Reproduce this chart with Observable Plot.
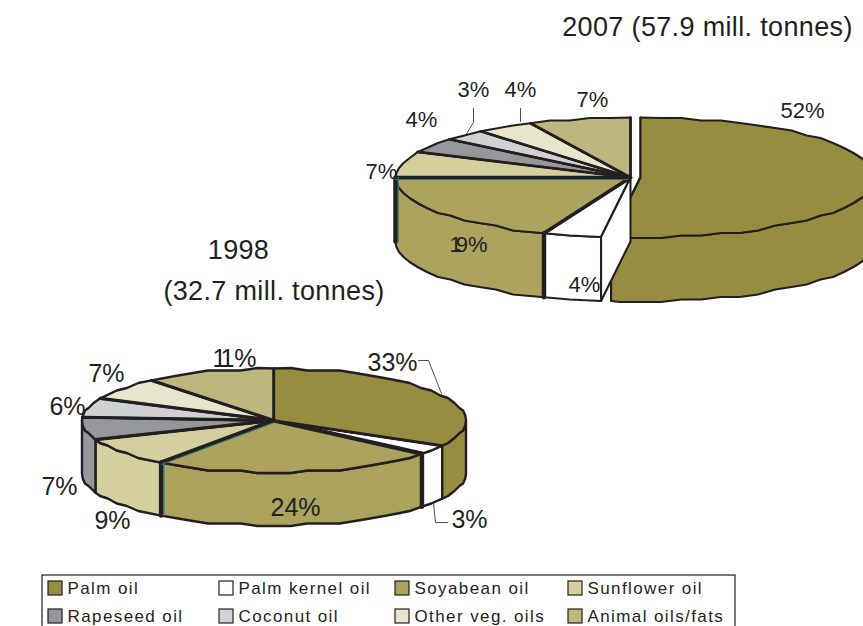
<!DOCTYPE html>
<html>
<head>
<meta charset="utf-8">
<script src="https://cdn.jsdelivr.net/npm/d3@7"></script>
<script src="https://cdn.jsdelivr.net/npm/@observablehq/plot@0.6"></script>
<style>
  html, body { margin: 0; padding: 0; background: #fff; overflow: hidden; }
  svg { display: block; }
</style>
</head>
<body>
<div id="chart"></div>
<script>
// Oil and fat shares of world exports, in percent, clockwise from twelve o'clock.
const oils = ["Palm oil", "Palm kernel oil", "Soyabean oil", "Sunflower oil",
              "Rapeseed oil", "Coconut oil", "Other veg. oils", "Animal oils/fats"];
const shares1998 = [33, 3, 24, 9, 7, 6, 7, 11];
const shares2007 = [52, 4, 19, 7, 4, 3, 4, 7];
const title2007 = "2007 (57.9 mill. tonnes)";
const title1998 = ["1998", "(32.7 mill. tonnes)"];

// Styling
const oilColors = ["#968d40", "#ffffff", "#aca35f", "#d5cfa0", "#96979b", "#cfd1d3", "#e8e5cd", "#bdb67f"];
const ink = "#231f20";
const teal = "#2b7a7a";
const font = "Liberation Sans, Arial, sans-serif";

// Layout of the two discs and of their percentage labels
const pie1998 = {
  cx: 273.5, cy: 420, rx: 192, ry: 52, depth: 53, shares: shares1998,
  radial: 3.2, outline: 2.4, labelSize: 25,
  labelAt: [[392, 362], [469, 519], [295, 507], [112, 520], [59, 486], [67, 406], [106, 373], [234, 358]],
  leaders: [[[418, 360], [428, 360], [441, 393]], [[433, 502], [435, 522], [447, 522]]]
};
const pie2007 = {
  cx: 630, cy: 177, rx: 235, ry: 60, depth: 64, shares: shares2007,
  radial: 2.7, outline: 2.1, labelSize: 22, pull: 10,
  labelAt: [[802, 110], [584, 284], [468, 244], [381, 171], [421, 119], [473, 89], [520, 89], [592, 99]],
  leaders: [[[473, 108], [473, 122], [465, 135]], [[520, 108], [520, 121]]]
};

const rad = Math.PI / 180;
const snap = (v) => Math.round(v / 2.5) * 2.5;

// A point of the disc rim at a clockwise angle from twelve o'clock.
const rim = (p, deg, cx = p.cx) => ({
  x: cx + p.rx * Math.sin(deg * rad),
  y: p.cy - p.ry * Math.cos(deg * rad)
});

// Rim sampled coarsely and snapped, which gives the outline its faceted edge.
function rimArc(p, a, b, cx) {
  const pts = [rim(p, a, cx)];
  for (let d = Math.ceil(a / 5) * 5 + 5; d < b - 2; d += 5) {
    const q = rim(p, d, cx);
    pts.push({x: q.x, y: snap(q.y)});
  }
  pts.push(rim(p, b, cx));
  return pts;
}

const polygon = (pts, fill, stroke, strokeWidth) =>
  Plot.line(pts, {x: "x", y: "y", fill, stroke, strokeWidth, curve: "linear-closed", strokeLinejoin: "round"});
const segment = (pts, stroke, strokeWidth, extra = {}) =>
  Plot.line(pts, {x: "x", y: "y", stroke, strokeWidth, strokeLinejoin: "round", ...extra});

function pieMarks(p) {
  const total = d3.sum(p.shares);
  const ends = d3.cumsum(p.shares).map((v) => (v / total) * 360);
  const slices = p.shares.map((v, i) => ({
    i, a: i ? ends[i - 1] : 0, b: ends[i], cx: p.pull && i === 0 ? p.cx + p.pull : p.cx
  }));
  const walls = [], tops = [], spokes = [], overlay = [];

  for (const s of slices) {
    const a = Math.max(s.a, 90), b = Math.min(s.b, 270);
    if (a < b) {
      const upper = rimArc(p, a, b, s.cx);
      const lower = upper.map((q) => ({x: q.x, y: q.y + p.depth})).reverse();
      const wall = polygon([...upper, ...lower], oilColors[s.i], ink, p.outline);
      s.i === 0 ? overlay.push(wall) : walls.push(wall);
    }
    const top = polygon([{x: s.cx, y: p.cy}, ...rimArc(p, s.a, s.b, s.cx)], oilColors[s.i], ink, p.outline);
    s.i === 0 ? overlay.push(top) : tops.push(top);
    spokes.push(segment([{x: s.cx, y: p.cy}, rim(p, s.b, s.cx)], ink, s.i === 1 || s.i === 2 ? p.radial + 1 : p.radial));
    if (s.i === 0) spokes.push(segment([{x: s.cx, y: p.cy}, rim(p, 0, s.cx)], ink, p.radial - 0.7));
  }

  // Heavy vertical edges either side of the soyabean wall, with their teal fringe.
  const drop = (deg) => {
    const q = rim(p, deg);
    return [q, {x: q.x, y: q.y + p.depth}];
  };
  const soyStart = slices[2].a, soyEnd = slices[2].b;
  const edges = [
    segment(drop(soyStart), ink, 4.5),
    segment(drop(soyEnd), ink, 4.5),
    segment(drop(soyEnd), teal, 1.2, {dx: 2.8}),
    segment([{x: p.cx, y: p.cy}, rim(p, soyEnd)], teal, 1, {dy: 2})
  ];

  // The radial face of the palm kernel slice, left open by the pulled-out palm slice.
  const face = [];
  if (p.pull) {
    const q = rim(p, slices[0].b);
    face.push(polygon(
      [{x: p.cx, y: p.cy}, q, {x: q.x, y: q.y + p.depth}, {x: p.cx, y: p.cy + p.depth}],
      "#ffffff", ink, p.outline
    ));
  }

  const leaders = p.leaders.map((l) => segment(l.map(([x, y]) => ({x, y})), ink, 0.8));
  const labels = Plot.text(p.shares.map((v, i) => ({t: `${v}%`, at: p.labelAt[i]})), {
    x: (d) => d.at[0], y: (d) => d.at[1], text: "t",
    fontSize: p.labelSize, fontFamily: font, fill: ink, textAnchor: "middle", lineAnchor: "middle"
  });
  return [...walls, ...tops, ...spokes, ...edges, ...overlay, ...face, ...leaders, labels];
}

// Legend laid out in two rows of four, as part of the same drawing.
const legendColumns = [48, 219, 395, 568];
const legendRows = [581, 609];
const legend = oils.map((name, i) => ({
  name, color: oilColors[i], x: legendColumns[i % 4], y: legendRows[Math.floor(i / 4)]
}));

const headings = [
  {t: title2007, x: 707, y: 27},
  {t: title1998[0], x: 238, y: 250},
  {t: title1998[1], x: 273.5, y: 291}
];

const plot = Plot.plot({
  width: 863,
  height: 626,
  margin: 0,
  x: {domain: [0, 863], range: [0, 863], axis: null},
  y: {domain: [0, 626], range: [0, 626], axis: null},
  style: {background: "#fff"},
  marks: [
    ...pieMarks(pie2007),
    ...pieMarks(pie1998),
    Plot.text(headings, {
      x: "x", y: "y", text: "t", fontSize: 27, fontFamily: font, fill: ink,
      textAnchor: "middle", lineAnchor: "middle", className: "heading"
    }),
    Plot.rect([{}], {x1: () => 42, x2: () => 735, y1: () => 575, y2: () => 650, fill: "none", stroke: ink, strokeWidth: 1.2}),
    Plot.rect(legend, {
      x1: "x", x2: (d) => d.x + 14, y1: "y", y2: (d) => d.y + 14,
      fill: "color", stroke: ink, strokeWidth: 1.2
    }),
    Plot.text(legend, {
      x: (d) => d.x + 19, y: (d) => d.y + 7, text: "name",
      fontSize: 17, fontFamily: font, fill: ink, textAnchor: "start", lineAnchor: "middle", className: "legend-label"
    })
  ],
  color: {type: "identity"}
});

// Headings and legend are set slightly open.
d3.select(plot).selectAll(".heading text").style("letter-spacing", "0.35px");
d3.select(plot).selectAll(".legend-label text").style("letter-spacing", "1.4px");

// In two-digit labels beginning with a 1, the 1 tucks into the next digit.
d3.select(plot).selectAll("text").filter(function () {
  return /^1\d%$/.test(this.textContent);
}).each(function () {
  const label = this.textContent;
  const node = d3.select(this).text("");
  node.append("tspan").style("letter-spacing", "-6px").text(label[0]);
  node.append("tspan").text(label.slice(1));
});

document.getElementById("chart").append(plot);
</script>
</body>
</html>
